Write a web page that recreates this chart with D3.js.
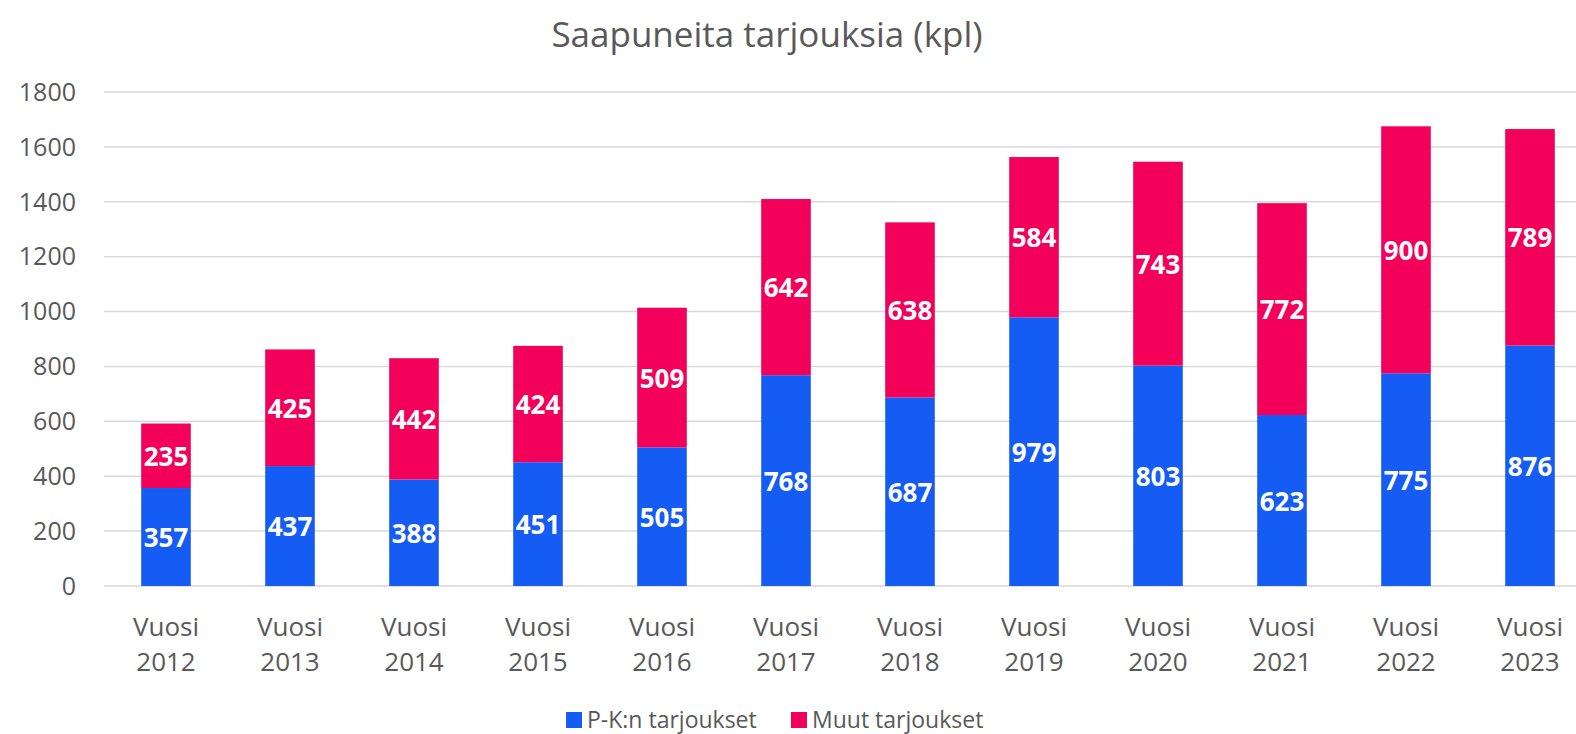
<!DOCTYPE html>
<html>
<head>
<meta charset="utf-8">
<script src="https://cdn.jsdelivr.net/npm/d3@7"></script>
<style>
  body { margin: 0; background: white; }
  svg { display: block; font-family: "Open Sans", sans-serif; }
</style>
</head>
<body>
<div id="chart"></div>
<script>
// chart data
const years = ["2012", "2013", "2014", "2015", "2016", "2017", "2018", "2019", "2020", "2021", "2022", "2023"];
const pkOffers = [357, 437, 388, 451, 505, 768, 687, 979, 803, 623, 775, 876];
const otherOffers = [235, 425, 442, 424, 509, 642, 638, 584, 743, 772, 900, 789];
const yTicks = [0, 200, 400, 600, 800, 1000, 1200, 1400, 1600, 1800];
const seriesNames = ["P-K:n tarjoukset", "Muut tarjoukset"];

const width = 1576,
    height = 734;

const blue = "#155cf5",
    pink = "#f20059",
    textGray = "#595959";

const svg = d3.select("#chart")
    .append("svg")
    .attr("width", width)
    .attr("height", height);

const x = d3.scaleBand()
    .domain(years)
    .range([104, 1592])
    .paddingInner(0.6)
    .paddingOuter(0.3);

const y = d3.scaleLinear()
    .domain([0, 1800])
    .range([586, 92]);

// gridlines
svg.append("g")
    .selectAll("line")
    .data(yTicks)
    .join("line")
    .attr("x1", 104)
    .attr("x2", width)
    .attr("y1", d => y(d))
    .attr("y2", d => y(d))
    .attr("stroke", "#d9d9d9")
    .attr("stroke-width", 1.5);

// y tick labels
svg.append("g")
    .selectAll("text")
    .data(yTicks)
    .join("text")
    .attr("x", 76)
    .attr("y", d => y(d))
    .attr("dy", "0.35em")
    .attr("text-anchor", "end")
    .attr("font-size", 25)
    .attr("fill", textGray)
    .text(d => d);

// stack the two series
const rows = years.map((yr, i) => ({ year: yr, pk: pkOffers[i], muut: otherOffers[i] }));
const stack = d3.stack().keys(["pk", "muut"])(rows);
const colors = [blue, pink];

const layers = svg.append("g")
    .selectAll("g")
    .data(stack)
    .join("g")
    .attr("fill", (d, i) => colors[i]);

layers.selectAll("rect")
    .data(d => d)
    .join("rect")
    .attr("x", d => x(d.data.year))
    .attr("width", x.bandwidth())
    .attr("y", d => y(d[1]))
    .attr("height", d => y(d[0]) - y(d[1]));

// value labels inside segments
layers.selectAll("text")
    .data(d => d)
    .join("text")
    .attr("x", d => x(d.data.year) + x.bandwidth() / 2)
    .attr("y", d => (y(d[0]) + y(d[1])) / 2 + 1)
    .attr("dy", "0.35em")
    .attr("text-anchor", "middle")
    .attr("font-size", 26)
    .attr("font-weight", "bold")
    .attr("fill", "white")
    .text(d => d[1] - d[0]);

// x labels, two lines
const xLabels = svg.append("g")
    .selectAll("text")
    .data(years)
    .join("text")
    .attr("text-anchor", "middle")
    .attr("font-size", 26)
    .attr("fill", textGray);

xLabels.append("tspan")
    .attr("x", d => x(d) + x.bandwidth() / 2)
    .attr("y", 636)
    .text("Vuosi");

xLabels.append("tspan")
    .attr("x", d => x(d) + x.bandwidth() / 2)
    .attr("y", 671)
    .text(d => d);

// title
svg.append("text")
    .attr("x", 767)
    .attr("y", 47)
    .attr("text-anchor", "middle")
    .attr("font-size", 35)
    .attr("fill", textGray)
    .text("Saapuneita tarjouksia (kpl)");

// legend
const legendX = [566, 791];
const legend = svg.append("g")
    .selectAll("g")
    .data(seriesNames)
    .join("g")
    .attr("transform", (d, i) => `translate(${legendX[i]},712)`);

legend.append("rect")
    .attr("width", 16)
    .attr("height", 16)
    .attr("fill", (d, i) => colors[i]);

legend.append("text")
    .attr("x", 21)
    .attr("y", 8)
    .attr("dy", "0.35em")
    .attr("font-size", 23)
    .attr("fill", textGray)
    .text(d => d);
</script>
</body>
</html>
